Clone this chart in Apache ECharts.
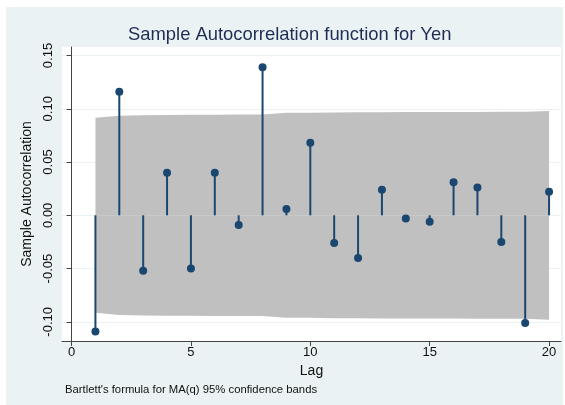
<!DOCTYPE html>
<html>
<head>
<meta charset="utf-8">
<script src="https://cdn.jsdelivr.net/npm/echarts@6/dist/echarts.min.js"></script>
<style>
  html, body { margin: 0; padding: 0; background: #fff; }
  #main { width: 565px; height: 405px; }
</style>
</head>
<body>
<div id="main"></div>
<script>
// lags and sample autocorrelations
var lags = [1, 2, 3, 4, 5, 6, 7, 8, 9, 10, 11, 12, 13, 14, 15, 16, 17, 18, 19, 20];
var acf = [-0.109, 0.116, -0.052, 0.040, -0.050, 0.040, -0.009, 0.139, 0.006, 0.068,
           -0.026, -0.040, 0.024, -0.003, -0.006, 0.031, 0.026, -0.025, -0.101, 0.022];
// Bartlett 95% band, upper / lower
var bandUpper = [0.0915, 0.0935, 0.0940, 0.0942, 0.0943, 0.0945, 0.0946, 0.0946, 0.0962, 0.0962,
                 0.0966, 0.0967, 0.0968, 0.0969, 0.0969, 0.0969, 0.0970, 0.0971, 0.0971, 0.0980];
var bandLower = [-0.0915, -0.0935, -0.0940, -0.0942, -0.0943, -0.0945, -0.0946, -0.0946, -0.0962, -0.0962,
                 -0.0966, -0.0967, -0.0968, -0.0969, -0.0969, -0.0969, -0.0970, -0.0971, -0.0971, -0.0980];
var xTicks = [0, 5, 10, 15, 20];
var yTicks = [-0.10, -0.05, 0.00, 0.05, 0.10, 0.15];

var navy = '#1a476f';
var bg = '#eaf2f3';

function pairs(ys) {
  return lags.map(function (l, i) { return [l, ys[i]]; });
}

var chart = echarts.init(document.getElementById('main'));
chart.setOption({
  backgroundColor: bg,
  animation: false,
  textStyle: { fontFamily: 'Liberation Sans, Arial, sans-serif' },
  title: {
    text: 'Sample Autocorrelation function for Yen',
    left: 123, top: 21,
    textStyle: { fontSize: 18.4, fontWeight: 'normal', color: '#1f2d55' }
  },
  graphic: [
    // white margin around the graph region
    { type: 'rect', shape: { x: 0, y: 0, width: 565, height: 7 }, style: { fill: '#fff' }, silent: true },
    { type: 'rect', shape: { x: 0, y: 0, width: 6, height: 405 }, style: { fill: '#fff' }, silent: true },
    { type: 'rect', shape: { x: 563, y: 0, width: 2, height: 405 }, style: { fill: '#fff' }, silent: true },
    { type: 'text', left: 65, top: 384,
      style: { text: "Bartlett's formula for MA(q) 95% confidence bands", fontSize: 11.3,
               fill: '#111', fontFamily: 'Liberation Sans, Arial, sans-serif' } }
  ],
  grid: {
    left: 62, right: 4, top: 47, bottom: 64,
    show: true, backgroundColor: '#fff', borderWidth: 0
  },
  xAxis: {
    type: 'value', min: -0.4, max: 20.5,
    name: 'Lag', nameLocation: 'middle', nameGap: 23,
    nameTextStyle: { fontSize: 14, color: '#111' },
    axisLine: { show: true, onZero: false, lineStyle: { color: '#444', width: 1 } },
    axisTick: { show: true, length: 5, customValues: xTicks, lineStyle: { color: '#444' } },
    axisLabel: { customValues: xTicks, fontSize: 13, color: '#111', margin: 5 },
    splitLine: { show: false }
  },
  yAxis: {
    type: 'value', min: -0.118, max: 0.158,
    name: 'Sample Autocorrelation', nameLocation: 'middle', nameGap: 25, nameRotate: 90,
    nameTextStyle: { fontSize: 14, color: '#111' },
    axisLine: { show: true, lineStyle: { color: '#444', width: 1 } },
    axisTick: { show: true, length: 5, customValues: yTicks, lineStyle: { color: '#444' } },
    axisLabel: {
      customValues: yTicks, fontSize: 13, color: '#111', rotate: 90, margin: 7,
      formatter: function (v) { return v.toFixed(2); }
    },
    splitLine: { show: true, lineStyle: { color: bg, width: 1 } }
  },
  series: [
    {
      type: 'line', data: pairs(bandUpper), symbol: 'none',
      lineStyle: { width: 0 }, areaStyle: { color: '#c0c0c0', opacity: 1 }, z: 1
    },
    {
      type: 'line', data: pairs(bandLower), symbol: 'none',
      lineStyle: { width: 0 }, areaStyle: { color: '#c0c0c0', opacity: 1 }, z: 1
    },
    {
      type: 'bar', data: pairs(acf), barWidth: 2,
      itemStyle: { color: navy }, z: 3
    },
    {
      type: 'scatter', data: pairs(acf), symbolSize: 8,
      itemStyle: { color: navy, opacity: 1 }, z: 4
    }
  ]
});
</script>
</body>
</html>
